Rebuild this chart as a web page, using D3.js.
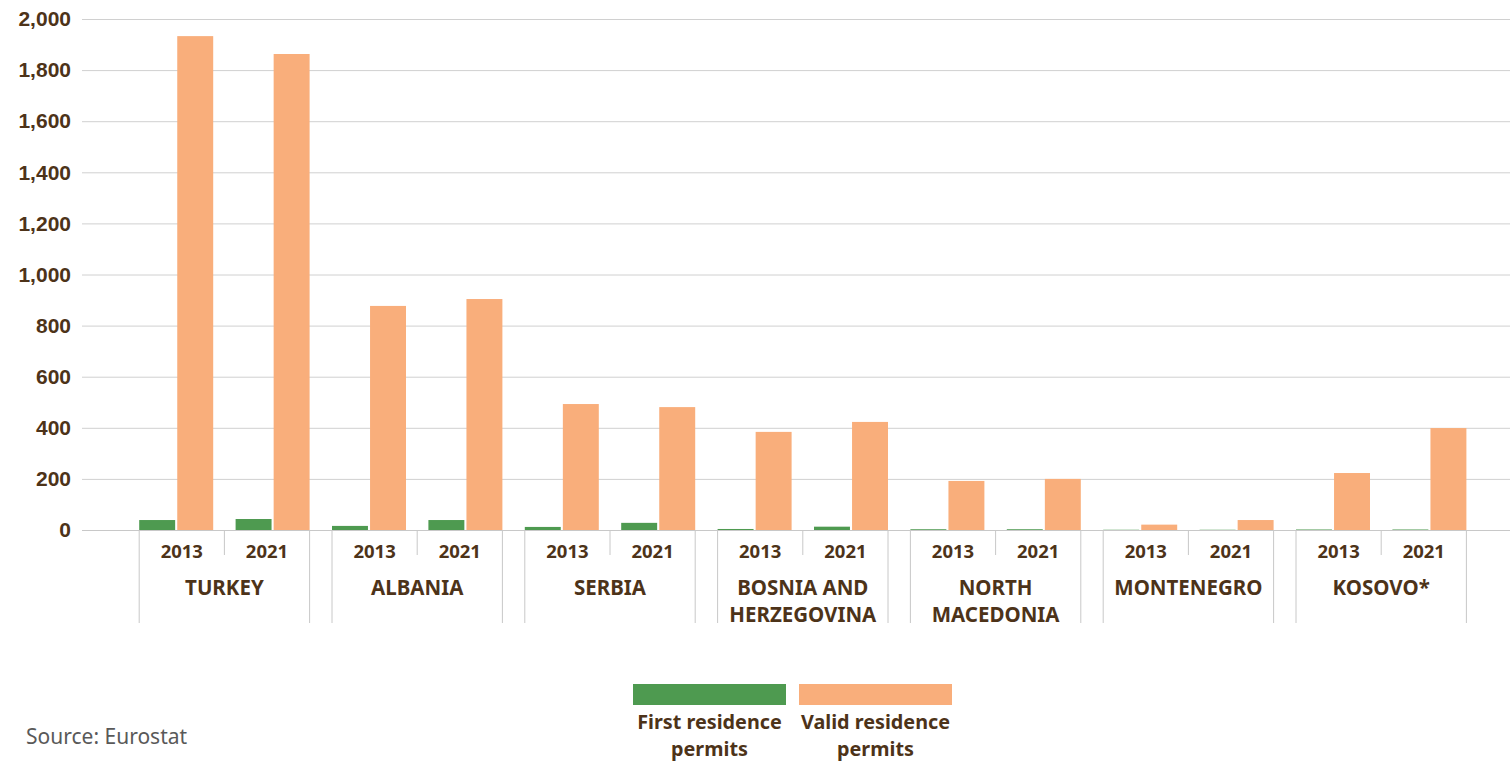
<!DOCTYPE html>
<html>
<head>
<meta charset="utf-8">
<script src="https://cdn.jsdelivr.net/npm/d3@7"></script>
<style>
  body { margin: 0; background: #fff; }
  svg { display: block; font-family: "Noto Sans", "Open Sans", sans-serif; }
</style>
</head>
<body>
<svg id="chart" width="1510" height="762"></svg>
<script>
const countries = [["TURKEY"], ["ALBANIA"], ["SERBIA"], ["BOSNIA AND", "HERZEGOVINA"],
  ["NORTH", "MACEDONIA"], ["MONTENEGRO"], ["KOSOVO*"]];
const years = ["2013", "2021"];
// per country: [2013, 2021]
const firstPermits = [[39, 43], [16, 39], [12, 28], [4, 13], [3, 3], [1, 1], [2, 2]];
const validPermits = [[1933, 1863], [877, 904], [493, 481], [384, 423], [192, 200], [21, 39], [223, 399]];
const yTicks = [0, 200, 400, 600, 800, 1000, 1200, 1400, 1600, 1800, 2000];
const seriesNames = [["First residence", "permits"], ["Valid residence", "permits"]];

const textColor = "#4d3319";
const colors = ["#4e9a50", "#f9ae7b"];

const svg = d3.select("#chart");
const width = 1510;

// flatten country x year into one row per bar pair
const rows = [];
countries.forEach((c, i) => {
  years.forEach((yr, j) => {
    rows.push({ key: i + "-" + yr, country: i, year: yr, values: [firstPermits[i][j], validPermits[i][j]] });
  });
});

const x = d3.scaleBand()
  .domain(rows.map(d => d.key))
  .range([128, 128 + rows.length * 96.4]);
const inner = d3.scaleBand()
  .domain([0, 1])
  .range([-37, 37])
  .paddingInner(0.055);
const y = d3.scaleLinear()
  .domain([0, 2000])
  .range([530, 19]);

// gridlines + y labels
const yAxis = svg.append("g")
  .attr("transform", "translate(82,0)")
  .call(d3.axisLeft(y).tickValues(yTicks).tickSize(-(width - 82)).tickFormat(d3.format(",")));
yAxis.select(".domain").remove();
yAxis.selectAll(".tick line").attr("stroke", "#d0d0d0").attr("stroke-width", 1);
yAxis.selectAll(".tick text")
  .attr("x", -11)
  .attr("fill", textColor)
  .attr("font-size", 21)
  .attr("font-weight", "bold");

// bars
const groups = svg.append("g").selectAll("g")
  .data(rows)
  .join("g")
  .attr("transform", d => `translate(${x(d.key) + x.bandwidth() / 2},0)`);
groups.selectAll("rect")
  .data(d => d.values)
  .join("rect")
  .attr("x", (d, i) => inner(i))
  .attr("width", inner.bandwidth())
  .attr("y", d => y(d))
  .attr("height", d => y(0) - y(d))
  .attr("fill", (d, i) => colors[i]);

// multi-level category axis
const axis = svg.append("g");
const sepColor = "#c8c8c8";
countries.forEach((c, i) => {
  const c0 = x(i + "-2013") + x.bandwidth() / 2;
  const c1 = x(i + "-2021") + x.bandwidth() / 2;
  const left = c0 - 37, right = c1 + 37, mid = (left + right) / 2;
  [left, right].forEach(px => axis.append("line")
    .attr("x1", px).attr("x2", px).attr("y1", 530).attr("y2", 623)
    .attr("stroke", sepColor).attr("stroke-width", 1));
  axis.append("line")
    .attr("x1", mid).attr("x2", mid).attr("y1", 530).attr("y2", 555)
    .attr("stroke", sepColor).attr("stroke-width", 1);
  years.forEach((yr, j) => {
    axis.append("text")
      .attr("x", j === 0 ? (left + mid) / 2 : (mid + right) / 2)
      .attr("y", 558)
      .attr("text-anchor", "middle")
      .attr("fill", textColor)
      .attr("font-size", 18.5)
      .attr("font-weight", "bold")
      .text(yr);
  });
  c.forEach((line, k) => {
    axis.append("text")
      .attr("x", mid)
      .attr("y", 595 + k * 27)
      .attr("text-anchor", "middle")
      .attr("fill", textColor)
      .attr("font-size", 20.5)
      .attr("font-weight", "bold")
      .text(line);
  });
});
// baseline
axis.append("line")
  .attr("x1", 82).attr("x2", width).attr("y1", 530.5).attr("y2", 530.5)
  .attr("stroke", "#c8c8c8");

// legend
const legend = svg.append("g");
seriesNames.forEach((name, i) => {
  const lx = 633 + i * 166;
  legend.append("rect")
    .attr("x", lx).attr("y", 684).attr("width", 153).attr("height", 21)
    .attr("fill", colors[i]);
  name.forEach((line, k) => {
    legend.append("text")
      .attr("x", lx + 76.5)
      .attr("y", 729 + k * 27)
      .attr("text-anchor", "middle")
      .attr("fill", textColor)
      .attr("font-size", 19.8)
      .attr("font-weight", "bold")
      .text(line);
  });
});

svg.append("text")
  .attr("x", 26)
  .attr("y", 744)
  .attr("fill", "#595959")
  .attr("font-size", 21)
  .text("Source: Eurostat");
</script>
</body>
</html>
